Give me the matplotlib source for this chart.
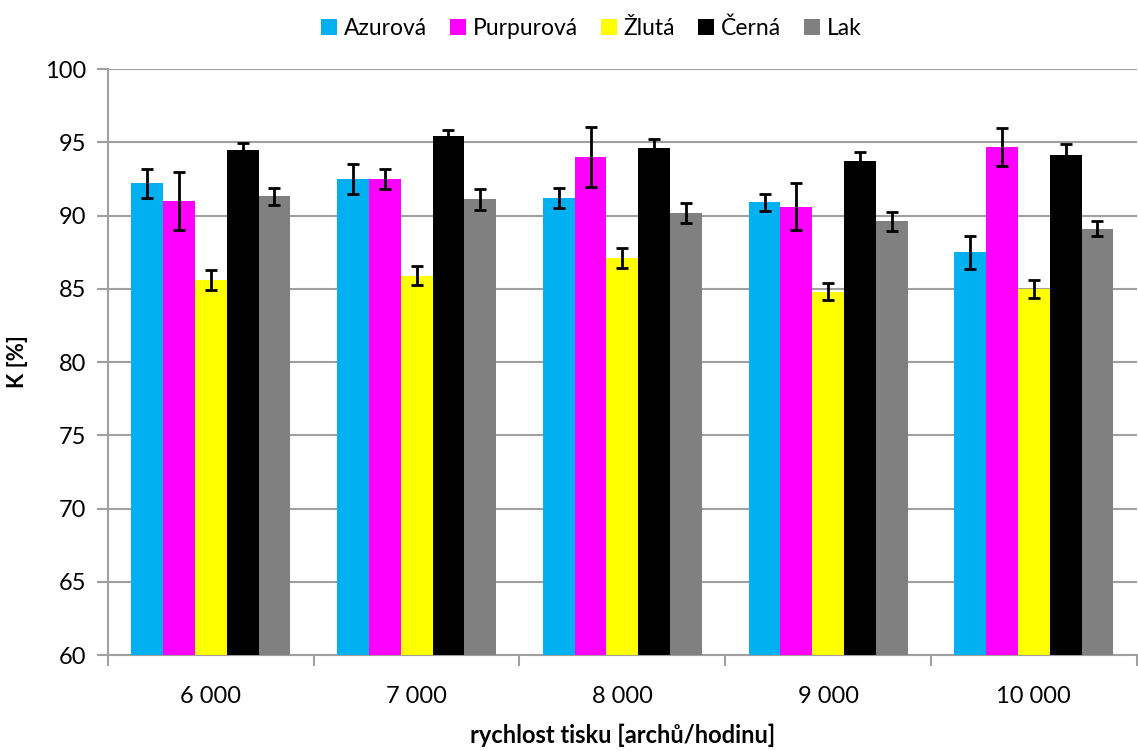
import numpy as np
import matplotlib.pyplot as plt

plt.rcParams['font.family'] = ['Lato', 'DejaVu Sans']

# data
speeds = ['6 000', '7 000', '8 000', '9 000', '10 000']
series = ['Azurová', 'Purpurová', 'Žlutá', 'Černá', 'Lak']
colors = ['#00B0F0', '#FF00FF', '#FFFF00', '#000000', '#808080']

azurova = [92.2, 92.5, 91.2, 90.9, 87.5]
purpurova = [91.0, 92.5, 94.0, 90.6, 94.7]
zluta = [85.6, 85.9, 87.1, 84.8, 85.0]
cerna = [94.5, 95.4, 94.6, 93.7, 94.1]
lak = [91.3, 91.1, 90.2, 89.6, 89.1]

azurova_err = [1.0, 1.0, 0.67, 0.6, 1.13]
purpurova_err = [2.0, 0.7, 2.05, 1.6, 1.3]
zluta_err = [0.65, 0.65, 0.65, 0.6, 0.62]
cerna_err = [0.45, 0.45, 0.6, 0.65, 0.75]
lak_err = [0.55, 0.7, 0.68, 0.65, 0.53]

values = [azurova, purpurova, zluta, cerna, lak]
errors = [azurova_err, purpurova_err, zluta_err, cerna_err, lak_err]

fig = plt.figure(figsize=(11.38, 7.51), dpi=100)
ax = fig.add_axes([0.0949, 0.1278, 0.904, 0.7803])

x = np.arange(len(speeds))
bw = 0.1546
for i, (name, col) in enumerate(zip(series, colors)):
    pos = x + (i - 2) * bw
    ax.bar(pos, values[i], width=bw, color=col, label=name, zorder=3)
    ax.errorbar(pos, values[i], yerr=errors[i], fmt='none', ecolor='black',
                elinewidth=2, capsize=4.5, capthick=2, zorder=4)

ax.set_ylim(60, 100)
ax.set_xlim(-0.5, len(speeds) - 0.5)
ax.set_yticks(np.arange(60, 101, 5))
ax.yaxis.grid(True, color='#A0A0A0', linewidth=1.5, zorder=0)
ax.set_axisbelow(True)

ax.set_xticks(x)
ax.set_xticklabels(speeds)
ax.set_xticks(np.arange(-0.5, len(speeds), 1), minor=True)
ax.tick_params(axis='x', which='major', length=0, pad=22, labelsize=17)
ax.tick_params(axis='x', which='minor', length=8, width=1.5, color='#A0A0A0')
ax.tick_params(axis='y', length=8, width=1.5, color='#A0A0A0', labelsize=17, pad=8)

for s in ['top', 'right']:
    ax.spines[s].set_visible(False)
for s in ['left', 'bottom']:
    ax.spines[s].set_color('#A0A0A0')
    ax.spines[s].set_linewidth(1.5)

ax.set_ylabel('K [%]', fontsize=16, fontweight='bold', labelpad=12)
ax.set_xlabel('rychlost tisku [archů/hodinu]', fontsize=17, fontweight='bold', labelpad=12)

ax.legend(loc='center', bbox_to_anchor=(0.47, 1 + 41 / 586), ncol=5, frameon=False,
          fontsize=16.5, handlelength=0.7, handleheight=0.7, handletextpad=0.3,
          columnspacing=1.0, borderaxespad=0.0)

fig.savefig('out.png', dpi=100)
